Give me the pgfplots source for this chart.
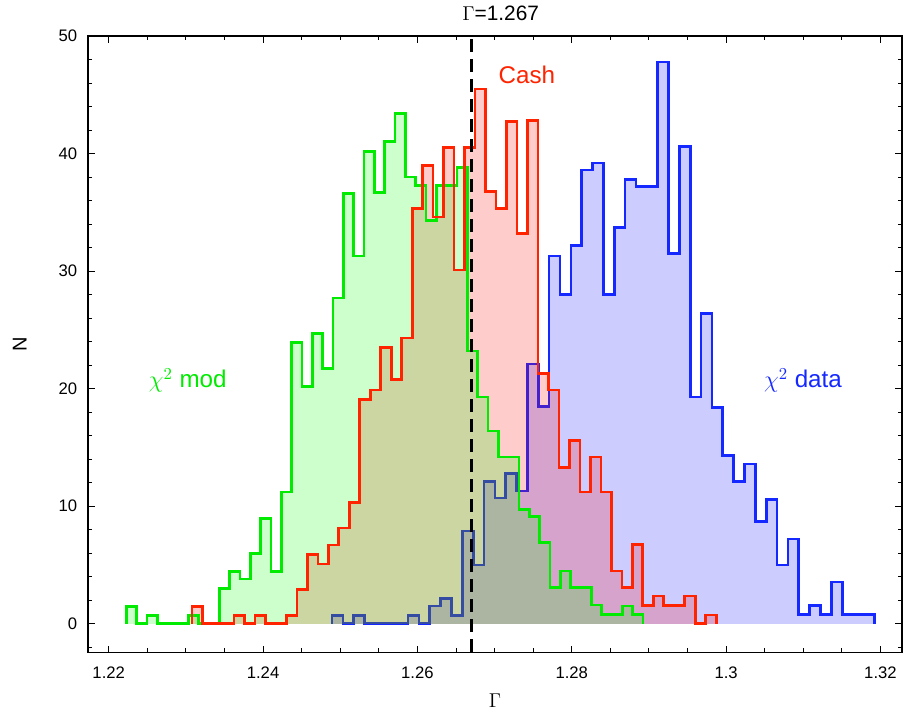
\documentclass[border=0pt]{standalone}
\usepackage{fontspec}
\setmainfont{Liberation Sans}
\usepackage{pgfplots}
\usepackage{pgfplotstable}
\pgfplotsset{compat=1.18}

\definecolor{hgreen}{RGB}{0,235,0}
\definecolor{hred}{RGB}{255,35,0}
\definecolor{hblue}{RGB}{20,40,255}

% histogram outlines: left bin edge, bin height (first/last rows close to zero)
\pgfplotstableread{
x y
1.222290 0
1.222290 1.47
1.223628 0
1.224967 0.7
1.226305 0
1.227644 0
1.228982 0
1.230321 0.7
1.231659 0
1.232998 0
1.234336 3.0
1.235674 4.45
1.237013 3.8
1.238351 6.0
1.239690 8.95
1.241028 4.45
1.242367 11.2
1.243705 23.9
1.245043 20.2
1.246382 24.7
1.247720 21.7
1.249059 27.7
1.250397 36.6
1.251736 31.3
1.253074 40.2
1.254413 36.7
1.255751 41.0
1.257089 43.4
1.258428 38.0
1.259766 37.3
1.261105 34.3
1.262443 37.3
1.263782 37.3
1.265120 38.8
1.266459 23.2
1.267797 19.3
1.269135 16.4
1.270474 14.2
1.271812 14.2
1.273151 9.7
1.274489 9.1
1.275828 6.9
1.277166 3.1
1.278504 4.5
1.279843 3.1
1.281181 3.1
1.282520 1.6
1.283858 0.8
1.285197 0.8
1.286535 1.5
1.287874 0.8
1.289212 0.8
1.289212 0
}\tabmod

\pgfplotstableread{
x y
1.230797 0
1.230797 1.47
1.232155 0
1.233514 0
1.234872 0
1.236231 0.7
1.237589 0
1.238947 0.7
1.240306 0
1.241664 0
1.243023 0.7
1.244381 2.9
1.245739 5.9
1.247098 5.1
1.248456 6.7
1.249815 8.15
1.251173 10.3
1.252531 19.1
1.253890 19.9
1.255248 23.5
1.256607 20.8
1.257965 24.3
1.259323 35.3
1.260682 39.0
1.262040 34.6
1.263399 40.5
1.264757 30.1
1.266115 40.5
1.267474 45.5
1.268832 36.8
1.270191 35.3
1.271549 42.7
1.272907 33.2
1.274266 42.8
1.275624 21.3
1.276983 19.9
1.278341 13.3
1.279699 15.6
1.281058 11.2
1.282416 14.2
1.283775 11.2
1.285133 4.5
1.286491 3.1
1.287850 6.75
1.289208 1.55
1.290567 2.35
1.291925 1.55
1.293283 1.55
1.294642 2.35
1.296000 0
1.297359 0.75
1.298717 0.75
1.298717 0
}\tabcash

\pgfplotstableread{
x y
1.248944 0
1.248944 0.7
1.250350 0
1.251757 0.7
1.253163 0
1.254569 0
1.255976 0
1.257382 0
1.258788 0.7
1.260195 0
1.261601 1.5
1.263007 2.15
1.264414 0.7
1.265820 7.9
1.267226 5.0
1.268633 12.1
1.270039 10.7
1.271445 12.8
1.272852 11.3
1.274258 22.1
1.275664 18.5
1.277071 31.3
1.278477 28.0
1.279883 32.2
1.281290 38.6
1.282696 39.2
1.284102 28.0
1.285509 33.7
1.286915 37.8
1.288321 37.2
1.289728 37.2
1.291134 47.8
1.292540 31.5
1.293947 40.6
1.295353 19.3
1.296760 26.4
1.298166 18.4
1.299572 14.3
1.300979 12.1
1.302385 13.6
1.303791 8.7
1.305198 10.6
1.306604 5.0
1.308010 7.2
1.309417 0.8
1.310823 1.55
1.312229 0.8
1.313636 3.55
1.315042 0.8
1.316448 0.8
1.317855 0.8
1.319261 0.8
1.319261 0
}\tabdata

\begin{document}
\begin{tikzpicture}
  \begin{axis}[
      scale only axis,
      width=488.2pt, height=369.6pt,
      xmin=1.21732, xmax=1.32279,
      ymin=-2.42, ymax=50,
      axis line style={line width=0.8pt},
      tick align=inside,
      major tick length=4pt,
      minor tick length=2.4pt,
      every tick/.style={black, line width=0.6pt},
      xtick={1.22,1.24,1.26,1.28,1.30,1.32},
      xticklabels={1.22,1.24,1.26,1.28,1.3,1.32},
      minor xtick={1.225,1.23,1.235,1.245,1.25,1.255,1.265,1.27,1.275,
                   1.285,1.29,1.295,1.305,1.31,1.315},
      ytick={0,10,20,30,40,50},
      minor ytick={-2,2,4,6,8,12,14,16,18,22,24,26,28,32,34,36,38,42,44,46,48},
      /pgf/number format/assume math mode=true,
      ticklabel style={font=\fontsize{10}{12}\selectfont},
      xticklabel style={yshift=-5pt},
      yticklabel style={xshift=-3pt},
      xlabel={$\Gamma$},
      xlabel style={at={(axis description cs:0.5,-0.078)}, anchor=center,
                    font=\fontsize{13}{15}\selectfont},
      ylabel={N},
      ylabel style={at={(axis description cs:-0.084,0.5)}, anchor=center,
                    font=\fontsize{12}{14}\selectfont},
      every axis title shift=0pt,
      title={$\Gamma$=1.267},
      title style={at={(axis description cs:0.507,1.037)}, anchor=center,
                   font=\fontsize{12.5}{14}\selectfont},
      clip=false,
    ]

    % chi2 data (drawn first, its outline sits under the other fills)
    \addplot[const plot, draw=none, fill=blue, fill opacity=0.2] table {\tabdata} \closedcycle;
    \addplot[const plot, hblue, line width=1.6pt, line join=miter] table {\tabdata};
    % Cash and chi2 mod fills
    \addplot[const plot, draw=none, fill=red, fill opacity=0.2] table {\tabcash} \closedcycle;
    \addplot[const plot, draw=none, fill=green, fill opacity=0.2] table {\tabmod} \closedcycle;
    % their outlines on top
    \addplot[const plot, hgreen, line width=1.6pt, line join=miter] table {\tabmod};
    \addplot[const plot, hred, line width=1.6pt, line join=miter] table {\tabcash};

    % best fit
    \addplot[black, line width=1.6pt, dash pattern=on 8pt off 4pt] coordinates {(1.267,-2.42) (1.267,50)};

    \node[text=hgreen, font=\fontsize{14.5}{17}\selectfont] at (axis cs:1.23024,20.7) {$\chi^2$ mod};
    \node[text=hred, font=\fontsize{14.5}{17}\selectfont] at (axis cs:1.27418,46.7) {Cash};
    \node[text=hblue, font=\fontsize{14.5}{17}\selectfont] at (axis cs:1.30996,20.7) {$\chi^2$ data};

    \coordinate (sw) at (rel axis cs:0,0);
    \coordinate (ne) at (rel axis cs:1,1);
  \end{axis}
  \path ([shift={(-52.8pt,-40.2pt)}]sw) rectangle ([shift={(0.6pt,21.6pt)}]ne);
\end{tikzpicture}
\end{document}
